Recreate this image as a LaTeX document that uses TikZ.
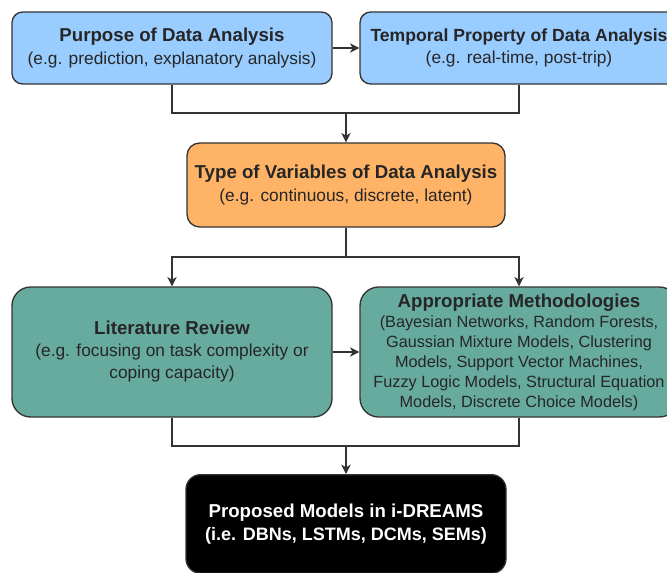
\documentclass[tikz,border=0pt]{standalone}
\usepackage{fontspec}
\setmainfont{Liberation Sans}
\usepackage{xcolor}
\usepackage{tikz}
\usetikzlibrary{arrows.meta,positioning,calc}

\definecolor{boxblue}{HTML}{99CCFF}
\definecolor{boxorange}{HTML}{FFB366}
\definecolor{boxgreen}{HTML}{67AB9F}
\definecolor{linegray}{HTML}{333333}
\newcommand{\boxhead}[1]{{\fontsize{14}{17}\selectfont\bfseries #1}}

\begin{document}
\begin{tikzpicture}[x=0.75pt, y=-0.75pt,
  box/.style={draw=linegray, line width=1pt, rounded corners=8pt, inner sep=0pt, align=center, font=\fontsize{13}{17}\selectfont, text=black!85},
  link/.style={line width=1.1pt, draw=linegray},
  arrow/.style={link, -{Stealth[length=7pt, width=7pt, inset=2pt]}}
]
\useasboundingbox (0,0) rectangle (667,572);

\node[box, fill=boxblue, minimum width=240pt, minimum height=54pt] (purpose) at (172,48) {\boxhead{Purpose of Data Analysis}\\(e.g. prediction, explanatory analysis)};
\node[box, fill=boxblue, minimum width=238.5pt, minimum height=54pt] (temporal) at (519,48) {{\fontsize{13.2}{17}\selectfont\bfseries Temporal Property of Data Analysis}\\(e.g. real-time, post-trip)};
\node[box, fill=boxorange, rounded corners=9.5pt, minimum width=238.5pt, minimum height=63pt] (variables) at (346,185) {\boxhead{Type of Variables of Data Analysis}\\(e.g. continuous, discrete, latent)};
\node[box, fill=boxgreen, rounded corners=14pt, minimum width=240pt, minimum height=97.5pt, font=\fontsize{13}{16.5}\selectfont] (litrev) at (172,352) {\boxhead{Literature Review}\\(e.g. focusing on task complexity or\\coping capacity)};
\node[box, fill=boxgreen, rounded corners=14pt, minimum width=238.5pt, minimum height=97.5pt, font=\fontsize{12.2}{15}\selectfont] (methods) at (519,352) {\boxhead{Appropriate Methodologies}\\(Bayesian Networks, Random Forests,\\Gaussian Mixture Models, Clustering\\Models, Support Vector Machines,\\Fuzzy Logic Models, Structural Equation\\Models, Discrete Choice Models)};
\node[box, fill=black, text=white, rounded corners=11pt, minimum width=240pt, minimum height=74pt, font=\fontsize{13.5}{17}\selectfont\bfseries] (models) at (346,524) {\boxhead{Proposed Models in i-DREAMS}\\(i.e. DBNs, LSTMs, DCMs, SEMs)};

\coordinate (topjoin) at (346,113);
\coordinate (midjoin) at (346,257);
\coordinate (lowjoin) at (346,446);

\draw[arrow] (purpose) -- (temporal);
\draw[link] (purpose.south) |- (topjoin) -| (temporal.south);
\draw[arrow] (topjoin) -- (variables.north);
\draw[link] (variables.south) -- (midjoin);
\draw[arrow] (midjoin) -| (litrev.north);
\draw[arrow] (midjoin) -| (methods.north);
\draw[arrow] (litrev) -- (methods);
\draw[link] (litrev.south) |- (lowjoin) -| (methods.south);
\draw[arrow] (lowjoin) -- (models.north);
\end{tikzpicture}
\end{document}
